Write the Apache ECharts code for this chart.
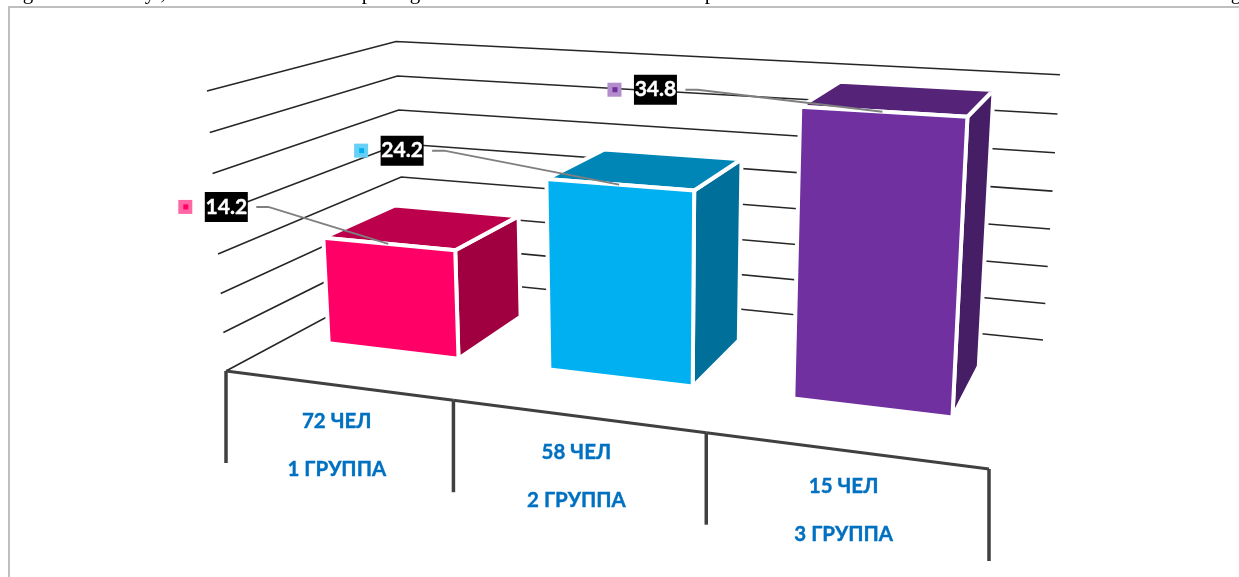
<!DOCTYPE html>
<html>
<head>
<meta charset="utf-8">
<style>html,body{margin:0;padding:0;background:#fff}#chart{width:1239px;height:577px}</style>
<script src="https://cdn.jsdelivr.net/npm/echarts@6/dist/echarts.min.js"></script>
</head>
<body>
<div id="chart"></div>
<script>
// data
const peopleLabels = ['72 ЧЕЛ', '58 ЧЕЛ', '15 ЧЕЛ'];
const groupLabels = ['1 ГРУППА', '2 ГРУППА', '3 ГРУППА'];
const barValues = [14.2, 24.2, 34.8];
const tickValues = [0, 5, 10, 15, 20, 25, 30, 35];

const barColors = [
    {front: '#ff0066', top: '#bc004b', side: '#a0003f', key: '#ff66a3'},
    {front: '#00b0f0', top: '#0086b6', side: '#00709a', key: '#66d0f6'},
    {front: '#7030a0', top: '#552479', side: '#461e65', key: '#b28ccb'}
];

// camera: corners of the box the chart sits in (floor), then where the top of the front left edge lands
const floorQuad = [[226, 371], [989, 469], [1043, 340], [405, 275]];
const frontTop = [207, 91];
const vanish = [646, 6555];

const homo = (function () {
    const [p0, p1, p2, p3] = floorQuad;
    const dx1 = p1[0] - p2[0], dx2 = p3[0] - p2[0], sx = p0[0] - p1[0] + p2[0] - p3[0];
    const dy1 = p1[1] - p2[1], dy2 = p3[1] - p2[1], sy = p0[1] - p1[1] + p2[1] - p3[1];
    const den = dx1 * dy2 - dx2 * dy1;
    const g = (sx * dy2 - dx2 * sy) / den;
    const h = (dx1 * sy - sx * dy1) / den;
    const r = (frontTop[1] - p0[1]) / (vanish[1] - frontTop[1]);
    return {
        a: p1[0] - p0[0] + g * p1[0], b: p3[0] - p0[0] + h * p3[0], c: p0[0],
        d: p1[1] - p0[1] + g * p1[1], e: p3[1] - p0[1] + h * p3[1], f: p0[1],
        g: g, h: h, r: r, p: vanish[0] * r, q: vanish[1] * r
    };
})();

// u along the categories, w into the depth, t up the value axis, all 0..1
function project(u, w, t) {
    const m = homo;
    const d = m.g * u + m.h * w + 1 + m.r * t;
    return [(m.a * u + m.b * w + m.c + m.p * t) / d, (m.d * u + m.e * w + m.f + m.q * t) / d];
}

// hidden grid gives the scales, renderItem turns its pixels into u and t
function toWorld(params, api, cat, val) {
    const pt = api.coord([cat, val]);
    const box = params.coordSys;
    return {u: (pt[0] - box.x) / box.width, t: (box.y + box.height - pt[1]) / box.height};
}

const barHalf = 0.3;     // share of a band, each side of its centre
const barDepth = [0.3, 0.71];
const bandW = 1 / peopleLabels.length;

function poly(points, fill) {
    return {
        type: 'polygon',
        shape: {points: points},
        style: {fill: fill, stroke: '#fff', lineWidth: 4, lineJoin: 'round'}
    };
}

function renderBar(params, api) {
    const i = api.value(0);
    const c = barColors[i];
    const top = toWorld(params, api, i, api.value(1));
    const u0 = top.u - bandW * barHalf, u1 = top.u + bandW * barHalf;
    const w0 = barDepth[0], w1 = barDepth[1], t = top.t;
    return {
        type: 'group',
        children: [
            poly([project(u1, w0, 0), project(u1, w1, 0), project(u1, w1, t), project(u1, w0, t)], c.side),
            poly([project(u0, w0, t), project(u1, w0, t), project(u1, w1, t), project(u0, w1, t)], c.top),
            poly([project(u0, w0, 0), project(u1, w0, 0), project(u1, w0, t), project(u0, w0, t)], c.front)
        ]
    };
}

function renderWallLine(params, api) {
    const t = toWorld(params, api, 0, api.value(0)).t;
    return {
        type: 'polyline',
        shape: {points: [project(0, 0, t), project(0, 1, t), project(1, 1, t)]},
        style: {fill: 'none', stroke: '#262626', lineWidth: 1.6}
    };
}

function catText(text, x, y) {
    return {
        type: 'text', x: x, y: y,
        style: {text: text, fill: '#0070c0', stroke: '#0070c0', lineWidth: 0.4, font: 'bold 20.5px Lato, "Open Sans"', align: 'center', verticalAlign: 'middle'}
    };
}

function renderCategory(params, api) {
    const i = api.value(0);
    const u = toWorld(params, api, i, 0).u;
    const a = project(u - bandW / 2, 0, 0), b = project(u + bandW / 2, 0, 0), mid = project(u, 0, 0);
    const tick = 92;
    const kids = [
        {type: 'line', shape: {x1: a[0], y1: a[1], x2: b[0], y2: b[1]}, style: {stroke: '#404040', lineWidth: 3}},
        {type: 'line', shape: {x1: a[0], y1: a[1], x2: a[0], y2: a[1] + tick}, style: {stroke: '#404040', lineWidth: 3.5}},
        catText(peopleLabels[i], mid[0], mid[1] + 36),
        catText(groupLabels[i], mid[0], mid[1] + 84)
    ];
    if (i === peopleLabels.length - 1) {
        kids.push({type: 'line', shape: {x1: b[0], y1: b[1], x2: b[0], y2: b[1] + tick}, style: {stroke: '#404040', lineWidth: 3.5}});
    }
    return {type: 'group', children: kids};
}

const calloutShift = [[-162, -37], [-217, -34], [-227, -22]];

function renderCallout(params, api) {
    const i = api.value(0);
    const w = toWorld(params, api, i, api.value(1));
    const end = project(w.u, barDepth[0], w.t);
    const cx = end[0] + calloutShift[i][0], cy = end[1] + calloutShift[i][1];
    const c = barColors[i];
    return {
        type: 'group',
        children: [
            {type: 'polyline', shape: {points: [[cx + 30, cy], [cx + 42, cy], end]}, style: {fill: 'none', stroke: '#7f7f7f', lineWidth: 2}},
            {type: 'rect', shape: {x: cx - 48, y: cy - 7, width: 14, height: 14}, style: {fill: c.key}},
            {type: 'rect', shape: {x: cx - 43, y: cy - 2.5, width: 5, height: 5}, style: {fill: c.front}},
            {type: 'rect', shape: {x: cx - 21.5, y: cy - 15, width: 43, height: 30}, style: {fill: '#000'}},
            {type: 'text', x: cx, y: cy, style: {text: String(api.value(1)), fill: '#fff', stroke: '#fff', lineWidth: 0.4, font: 'bold 21px Lato', align: 'center', verticalAlign: 'middle'}}
        ]
    };
}

// tails of the document line cut off above the chart
const cutOffLine = [['g', 28], ['у', 150], [',', 163], ['р', 367], ['g', 415], ['р', 710], ['g', 1236]];

const myChart = echarts.init(document.getElementById('chart'));
const catIndex = peopleLabels.map((_, i) => i);
const option = {
    animation: false,
    grid: {left: 100, right: 100, top: 50, bottom: 50},
    xAxis: {type: 'category', data: groupLabels, show: false},
    yAxis: {type: 'value', min: 0, max: 35, interval: 5, show: false},
    graphic: [
        {type: 'line', shape: {x1: 9, y1: 7, x2: 9, y2: 577}, style: {stroke: '#bfbfbf', lineWidth: 2}},
        {type: 'line', shape: {x1: 8, y1: 7, x2: 1239, y2: 7}, style: {stroke: '#bfbfbf', lineWidth: 2}}
    ].concat(cutOffLine.map(item => ({
        type: 'text', x: item[1], y: -7,
        style: {text: item[0], fill: '#000', font: '21px "Liberation Serif"', align: 'center', verticalAlign: 'middle'}
    }))),
    series: [
        {type: 'custom', renderItem: renderWallLine, data: tickValues.map(v => [v]), encode: {y: 0}, silent: true, z: 1},
        {type: 'custom', renderItem: renderCategory, data: catIndex.map(i => [i]), encode: {x: 0}, silent: true, z: 2},
        {type: 'custom', renderItem: renderBar, data: barValues.map((v, i) => [i, v]), encode: {x: 0, y: 1}, silent: true, z: 3},
        {type: 'custom', renderItem: renderCallout, data: barValues.map((v, i) => [i, v]), encode: {x: 0, y: 1}, silent: true, z: 4}
    ]
};
myChart.setOption(option);
</script>
</body>
</html>
